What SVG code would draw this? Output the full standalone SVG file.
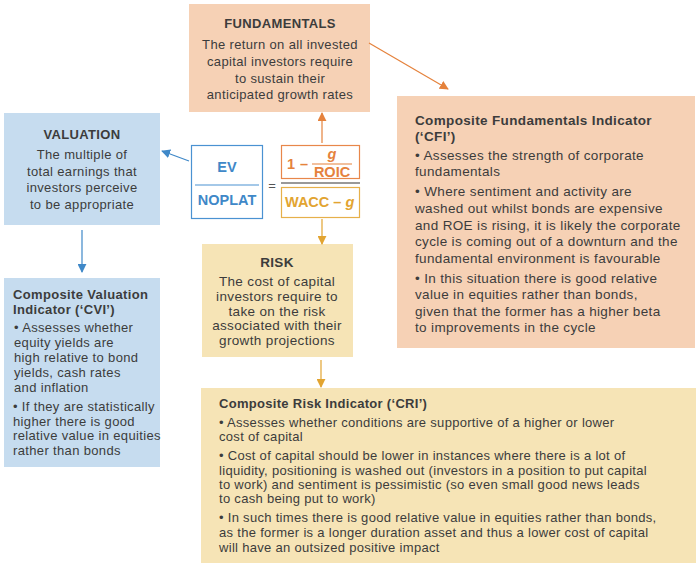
<svg xmlns="http://www.w3.org/2000/svg" width="700" height="568" viewBox="0 0 700 568">
<defs>
<style>
.t{font-family:"Liberation Sans",Arial,sans-serif;font-size:13px;letter-spacing:0.35px;fill:#3c3c3c}
.L{font-size:13.5px}
.s{letter-spacing:0.3px}
.b{font-weight:bold}
.c{text-anchor:middle}
.peach{fill:#f6d1b5}
.blue{fill:#c6dcef}
.yel{fill:#f6e4b6}
.f{font-family:"Liberation Sans",Arial,sans-serif;font-weight:bold;font-size:14.5px}
</style>
<marker id="ao" viewBox="0 0 10 10" refX="9" refY="5" markerWidth="9" markerHeight="9" markerUnits="userSpaceOnUse" orient="auto"><path d="M0,0L10,5L0,10z" fill="#e5823c"/></marker>
<marker id="ab" viewBox="0 0 10 10" refX="9" refY="5" markerWidth="9" markerHeight="9" markerUnits="userSpaceOnUse" orient="auto"><path d="M0,0L10,5L0,10z" fill="#3f88c8"/></marker>
<marker id="ay" viewBox="0 0 10 10" refX="9" refY="5" markerWidth="9" markerHeight="9" markerUnits="userSpaceOnUse" orient="auto"><path d="M0,0L10,5L0,10z" fill="#e2a431"/></marker>
</defs>
<rect width="700" height="568" fill="#fff"/>

<g id="fundamentals">
<rect class="peach" x="189" y="4" width="181" height="108"/>
<text class="t b c" x="280" y="28">FUNDAMENTALS</text>
<text class="t c" x="280" y="49">The return on all invested</text>
<text class="t c" x="280" y="66">capital investors require</text>
<text class="t c" x="280" y="83">to sustain their</text>
<text class="t c" x="280" y="99">anticipated growth rates</text>
</g>

<g id="valuation">
<rect class="blue" x="4" y="113" width="156" height="112"/>
<text class="t b c" x="82" y="139">VALUATION</text>
<text class="t c" x="82" y="159">The multiple of</text>
<text class="t c" x="82" y="176">total earnings that</text>
<text class="t c" x="82" y="192">investors perceive</text>
<text class="t c" x="82" y="209">to be appropriate</text>
</g>

<g id="formula">
<rect x="191.5" y="145.5" width="71" height="73" fill="#fff" stroke="#4a92d2" stroke-width="1.2"/>
<text class="f c" x="227" y="172" fill="#3f88c8">EV</text>
<line x1="195" y1="185" x2="259" y2="185" stroke="#4a92d2" stroke-width="1.2"/>
<text class="f c" x="227" y="205" fill="#3f88c8">NOPLAT</text>
<text x="272" y="190" font-family="Liberation Sans,Arial,sans-serif" font-size="13" fill="#555" text-anchor="middle">=</text>
<rect x="281.5" y="145.5" width="78" height="33" fill="#fff" stroke="#e8874a" stroke-width="1.2"/>
<text class="f" x="287" y="169" fill="#e5823c">1 <tspan dx="1">–</tspan></text>
<text class="f c" x="332" y="159" fill="#e5823c" font-style="italic">g</text>
<line x1="312" y1="164" x2="352" y2="164" stroke="#e5823c" stroke-width="1.2"/>
<text class="f c" x="332" y="177" fill="#e5823c">ROIC</text>
<line x1="281" y1="183" x2="360" y2="183" stroke="#777" stroke-width="1.5"/>
<rect x="281.5" y="187.5" width="78" height="30" fill="#fff" stroke="#e6b04a" stroke-width="1.2"/>
<text class="f" x="285" y="207" fill="#e2a431">WACC – <tspan font-style="italic">g</tspan></text>
</g>

<g id="cfi">
<rect class="peach" x="397" y="96" width="298" height="252"/>
<text class="t L b" x="415" y="125">Composite Fundamentals Indicator</text>
<text class="t L b" x="415" y="141">(‘CFI’)</text>
<text class="t L" x="415" y="160">• Assesses the strength of corporate</text>
<text class="t L" x="415" y="176">fundamentals</text>
<text class="t L" x="415" y="196">• Where sentiment and activity are</text>
<text class="t L" x="415" y="213">washed out whilst bonds are expensive</text>
<text class="t L" x="415" y="230">and ROE is rising, it is likely the corporate</text>
<text class="t L" x="415" y="246">cycle is coming out of a downturn and the</text>
<text class="t L" x="415" y="263">fundamental environment is favourable</text>
<text class="t L" x="415" y="283">• In this situation there is good relative</text>
<text class="t L" x="415" y="299">value in equities rather than bonds,</text>
<text class="t L" x="415" y="316">given that the former has a higher beta</text>
<text class="t L" x="415" y="332">to improvements in the cycle</text>
</g>

<g id="cvi">
<rect class="blue" x="4" y="278" width="156" height="189"/>
<text class="t b" x="13" y="299">Composite Valuation</text>
<text class="t b" x="13" y="314">Indicator (‘CVI’)</text>
<text class="t" x="14" y="332">• Assesses whether</text>
<text class="t" x="14" y="347">equity yields are</text>
<text class="t" x="14" y="362">high relative to bond</text>
<text class="t" x="14" y="377">yields, cash rates</text>
<text class="t" x="14" y="392">and inflation</text>
<text class="t" x="13" y="411">• If they are statistically</text>
<text class="t" x="13" y="426">higher there is good</text>
<text class="t" x="13" y="440">relative value in equities</text>
<text class="t" x="13" y="455">rather than bonds</text>
</g>

<g id="risk">
<rect class="yel" x="202" y="244" width="151" height="113"/>
<text class="t L b c" x="277" y="267">RISK</text>
<text class="t L c" x="277" y="286">The cost of capital</text>
<text class="t L c" x="277" y="301">investors require to</text>
<text class="t L c" x="277" y="316">take on the risk</text>
<text class="t L c" x="277" y="330">associated with their</text>
<text class="t L c" x="277" y="345">growth projections</text>
</g>

<g id="cri">
<rect class="yel" x="201" y="388" width="495" height="175"/>
<text class="t s b" x="219" y="408">Composite Risk Indicator (‘CRI’)</text>
<text class="t s" x="219" y="427">• Assesses whether conditions are supportive of a higher or lower</text>
<text class="t s" x="219" y="441">cost of capital</text>
<text class="t s" x="219" y="460">• Cost of capital should be lower in instances where there is a lot of</text>
<text class="t s" x="219" y="475">liquidity, positioning is washed out (investors in a position to put capital</text>
<text class="t s" x="219" y="489">to work) and sentiment is pessimistic (so even small good news leads</text>
<text class="t s" x="219" y="503">to cash being put to work)</text>
<text class="t s" x="219" y="522">• In such times there is good relative value in equities rather than bonds,</text>
<text class="t s" x="219" y="537">as the former is a longer duration asset and thus a lower cost of capital</text>
<text class="t s" x="219" y="552">will have an outsized positive impact</text>
</g>

<g id="connectors" fill="none" stroke-width="1.2">
<line x1="369" y1="43" x2="448" y2="89" stroke="#e5823c" marker-end="url(#ao)"/>
<line x1="322" y1="143" x2="322" y2="113" stroke="#e5823c" marker-end="url(#ao)"/>
<line x1="189" y1="161" x2="162" y2="151" stroke="#3f88c8" marker-end="url(#ab)"/>
<line x1="82" y1="230" x2="82" y2="272" stroke="#3f88c8" marker-end="url(#ab)"/>
<line x1="322" y1="219" x2="322" y2="244" stroke="#e2a431" marker-end="url(#ay)"/>
<line x1="321" y1="360" x2="321" y2="387" stroke="#e2a431" marker-end="url(#ay)"/>
</g>
</svg>
